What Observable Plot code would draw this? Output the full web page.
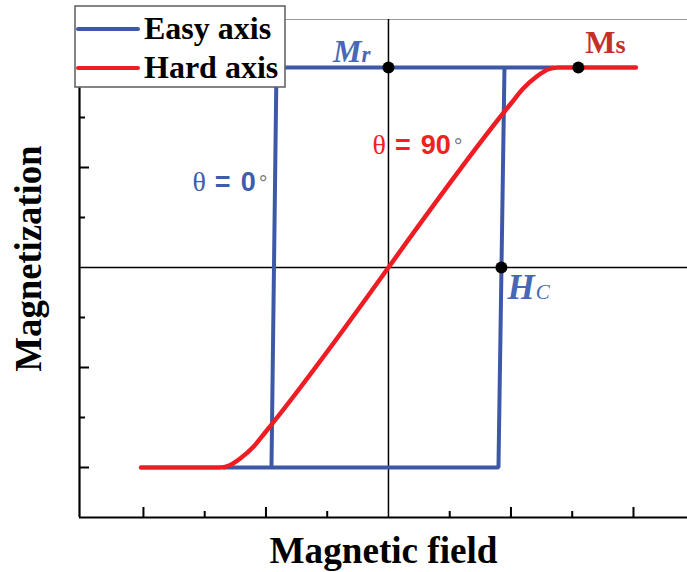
<!DOCTYPE html>
<html>
<head>
<meta charset="utf-8">
<script src="https://cdn.jsdelivr.net/npm/d3@7"></script>
<script src="https://cdn.jsdelivr.net/npm/@observablehq/plot@0.6"></script>
<style>
  body { margin: 0; background: #fff; }
  #chart { position: relative; width: 687px; height: 572px; overflow: hidden; }
  #legend { position: absolute; left: 74px; top: 5px; }
</style>
</head>
<body>
<div id="chart"></div>
<script>
// Hysteresis loops: easy axis (square loop) and hard axis (linear, saturating)
const seriesNames = ["Easy axis", "Hard axis"];

// Easy axis loop (normalised field, normalised magnetization)
const easyField = [1.35, -0.914, -0.955, -1.35, 0.898, 0.947];
const easyMag   = [1,     1,     -1,     -1,    -1,    1];

// Hard axis curve
const hardField = [-2.02, -1.38, -1.30, -1.21, -1.10, -1.00, 1.00, 1.10, 1.21, 1.30, 1.38, 2.02];
const hardMag   = [-1,    -1,    -0.99, -0.955, -0.895, -0.82, 0.82, 0.895, 0.955, 0.99, 1,   1];

// Remanence, coercive field, saturation
const keyNames = ["Mr", "Hc", "Ms"];
const keyField = [0, 0.922, 1.55];
const keyMag   = [1, 0, 1];

const angleLabels = ["θ = 0°", "θ = 90°"];

const fieldTicksMajor = [-2, -1, 1, 2];
const fieldTicksMinor = [-1.5, -0.5, 0.5, 1.5];
const magTicksMajor = [-1, -0.5, 0.5, 1];
const magTicksMinor = [-0.75, -0.25, 0.25, 0.75];

const xTitle = "Magnetic field";
const yTitle = "Magnetization";

const BLUE = "#3E58A8";
const RED = "#EE1D23";
const SERIF = "'Liberation Serif', 'Times New Roman', serif";
const SANS = "'Liberation Sans', Arial, sans-serif";

const W = 687, H = 572;
const mL = 79, mR = 0, mT = 19, mB = 55;
const frameW = W - mL - mR, frameH = H - mT - mB;
const xDomain = [-2.522, 2.441];
const yDomain = [-1.25, 1.24];

const easy = easyField.map((x, i) => ({x, y: easyMag[i]}));
const hard = hardField.map((x, i) => ({x, y: hardMag[i]}));
const keys = keyNames.map((name, i) => ({name, x: keyField[i], y: keyMag[i]}));

const plot = Plot.plot({
  width: W, height: H,
  marginLeft: mL, marginRight: mR, marginTop: mT, marginBottom: mB,
  x: {domain: xDomain, axis: null},
  y: {domain: yDomain, axis: null},
  style: {background: "#fff", overflow: "visible"},
  marks: [
    // frame: thin top border, heavy left and bottom axes
    Plot.ruleY([yDomain[1]], {stroke: "#999", strokeWidth: 1.2}),
    Plot.ruleX([0], {stroke: "#000", strokeWidth: 1.5}),
    Plot.ruleY([0], {stroke: "#000", strokeWidth: 1.5}),
    Plot.tickX(fieldTicksMajor, {x: d => d, insetTop: frameH - 10, stroke: "#000", strokeWidth: 2}),
    Plot.tickX(fieldTicksMinor, {x: d => d, insetTop: frameH - 6, stroke: "#000", strokeWidth: 2}),
    Plot.tickY(magTicksMajor, {y: d => d, insetRight: frameW - 10, stroke: "#000", strokeWidth: 2}),
    Plot.tickY(magTicksMinor, {y: d => d, insetRight: frameW - 6, stroke: "#000", strokeWidth: 2}),
    Plot.ruleX([xDomain[0]], {stroke: "#000", strokeWidth: 2.2}),
    Plot.ruleY([yDomain[0]], {stroke: "#000", strokeWidth: 2.2}),

    // loops
    Plot.line(easy, {x: "x", y: "y", stroke: BLUE, strokeWidth: 4, strokeLinejoin: "miter", strokeLinecap: "butt"}),
    Plot.line(hard, {x: "x", y: "y", stroke: RED, strokeWidth: 4.5, curve: "monotone-x"}),
    Plot.dot(keys, {x: "x", y: "y", r: 6, fill: "#000"}),

    // point labels
    Plot.text(keys.filter(d => d.name === "Mr"), {x: "x", y: "y", text: "name", textAnchor: "end", lineAnchor: "bottom", dx: -18, dy: -6, fill: "#4769B5"}),
    Plot.text(keys.filter(d => d.name === "Hc"), {x: "x", y: "y", text: "name", textAnchor: "start", lineAnchor: "bottom", dx: 6, dy: 31, fill: "#4769B5"}),
    Plot.text(keys.filter(d => d.name === "Ms"), {x: "x", y: "y", text: "name", textAnchor: "start", lineAnchor: "bottom", dx: 7, dy: -15, fill: "#C62E2A"}),

    // angle labels
    Plot.text([angleLabels[0]], {x: -1.6, y: 0.385, text: d => d, textAnchor: "start", lineAnchor: "bottom", fill: "#3D5DAA"}),
    Plot.text([angleLabels[1]], {x: -0.13, y: 0.57, text: d => d, textAnchor: "start", lineAnchor: "bottom", fill: "#EE2222"}),

    // axis titles
    Plot.text([xTitle], {frameAnchor: "bottom", text: d => d, textAnchor: "middle", lineAnchor: "bottom", dy: 45, fill: "#000"}),
    Plot.text([yTitle], {frameAnchor: "left", text: d => d, textAnchor: "middle", rotate: -90, lineAnchor: "bottom", dx: -39, dy: -10, fill: "#000"})
  ]
});

document.getElementById("chart").appendChild(plot);

// Mixed-style runs inside a text element
function richText(content, runs, attrs = {}) {
  d3.select(plot).selectAll("text")
    .filter(function () { return this.textContent === content; })
    .each(function () {
      const t = d3.select(this);
      t.text(null);
      for (const [k, v] of Object.entries(attrs)) t.attr(k, v);
      for (const r of runs) {
        const s = t.append("tspan").text(r.text);
        for (const [k, v] of Object.entries(r.attrs || {})) s.attr(k, v);
      }
    });
}

richText("Mr", [
  {text: "M", attrs: {"font-size": 32}},
  {text: "r", attrs: {"font-size": 23}}
], {"font-family": SERIF, "font-weight": "bold", "font-style": "italic"});

richText("Hc", [
  {text: "H", attrs: {"font-size": 35}},
  {text: "C", attrs: {"font-size": 21, "font-weight": "normal", dx: 1}}
], {"font-family": SERIF, "font-weight": "bold", "font-style": "italic"});

richText("Ms", [
  {text: "M", attrs: {"font-size": 32}},
  {text: "s", attrs: {"font-size": 26}}
], {"font-family": SERIF, "font-weight": "bold"});

for (const label of angleLabels) {
  const [theta, eq, num] = label.replace("°", "").split(" ");
  richText(label, [
    {text: theta, attrs: {"font-family": SERIF, "font-size": 28}},
    {text: eq, attrs: {"font-family": SANS, "font-weight": "bold", "font-size": 27, dx: 9}},
    {text: num, attrs: {"font-family": SANS, "font-weight": "bold", "font-size": 27, dx: 10}},
    {text: "°", attrs: {"font-family": SANS, "font-size": 22, fill: "#777", dx: 3}}
  ]);
}

richText(xTitle, [{text: xTitle}], {"font-family": SERIF, "font-weight": "bold", "font-size": 37, textLength: 228, lengthAdjust: "spacingAndGlyphs"});
richText(yTitle, [{text: yTitle}], {"font-family": SERIF, "font-weight": "bold", "font-size": 37, textLength: 226, lengthAdjust: "spacingAndGlyphs"});

// Legend box over the upper-left corner of the frame
const colors = [BLUE, RED];
const leg = d3.select("#chart").append("svg")
  .attr("id", "legend").attr("width", 213).attr("height", 84);
leg.append("rect").attr("x", 1).attr("y", 1).attr("width", 210).attr("height", 81)
  .attr("fill", "#fff").attr("stroke", "#666").attr("stroke-width", 1.6);
const rows = leg.selectAll("g").data(seriesNames).join("g")
  .attr("transform", (d, i) => `translate(0, ${24 + i * 39})`);
rows.append("line").attr("x1", 4).attr("x2", 64).attr("y1", 0).attr("y2", 0)
  .attr("stroke", (d, i) => colors[i]).attr("stroke-width", 4).attr("stroke-linecap", "round");
rows.append("text").attr("x", 70).attr("y", 9.5).text(d => d)
  .attr("font-family", SERIF).attr("font-weight", "bold").attr("font-size", 32).attr("fill", "#000");
</script>
</body>
</html>
